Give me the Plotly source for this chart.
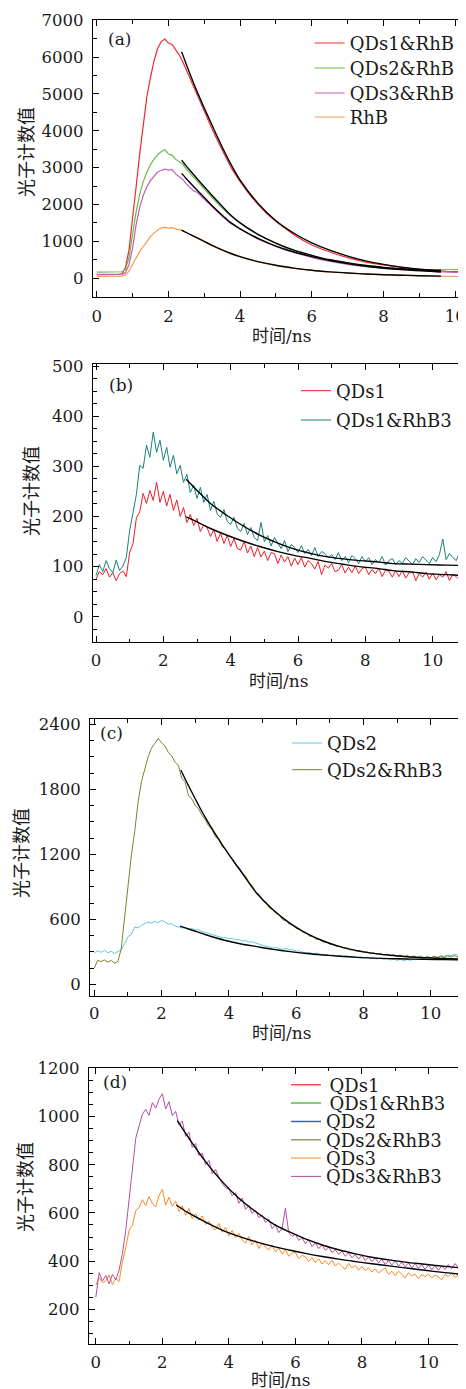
import plotly.graph_objects as go

# The page body adds an 8 px margin, so the figure is drawn 8 px smaller and
# every reference pixel position is shifted by that offset.
OFF = 8
W, H = 466 - OFF, 1389 - OFF

# ---------------- Panel (a) data ----------------
t_a = [0, 0.2, 0.4, 0.6, 0.7, 0.8, 0.9, 1.0, 1.1, 1.2, 1.3, 1.4, 1.5, 1.6, 1.7, 1.8, 1.9, 2.0,
       2.1, 2.2, 2.3, 2.4, 2.5, 2.6, 2.7, 2.8, 2.9, 3.0, 3.25, 3.5, 3.75, 4.0, 4.25, 4.5, 4.75,
       5.0, 5.25, 5.5, 5.75, 6.0, 6.25, 6.5, 6.75, 7.0, 7.25, 7.5, 7.75, 8.0, 8.25, 8.5, 8.75,
       9.0, 9.25, 9.5, 9.75, 10.0, 10.25, 10.3]
a_qds1_rhb = [95, 90, 95, 100, 120, 280, 760, 1550, 2480, 3380, 4200, 4930, 5450, 5900, 6230, 6420,
              6490, 6380, 6340, 6200, 6060, 5870, 5650, 5420, 5230, 5000, 4780, 4560, 3980, 3480,
              3000, 2620, 2290, 2000, 1750, 1540, 1350, 1180, 1030, 900, 800, 710, 630, 560, 490,
              435, 395, 357, 320, 290, 262, 238, 218, 200, 188, 180, 172, 170]
a_qds2_rhb = [165, 170, 165, 170, 175, 230, 560, 1180, 1800, 2280, 2620, 2880, 3080, 3230, 3350,
              3430, 3490, 3370, 3340, 3230, 3170, 3090, 2960, 2850, 2740, 2650, 2540, 2410, 2150,
              1900, 1680, 1500, 1320, 1180, 1050, 940, 830, 750, 680, 615, 540, 490, 445, 415, 380,
              345, 318, 295, 275, 255, 240, 228, 222, 225, 230, 235, 238, 240]
a_qds3_rhb = [105, 100, 105, 105, 110, 150, 360, 820, 1450, 1930, 2250, 2480, 2650, 2780, 2880,
              2920, 2960, 2930, 2950, 2830, 2760, 2680, 2560, 2450, 2370, 2330, 2240, 2150, 1900,
              1680, 1480, 1340, 1180, 1060, 955, 860, 770, 700, 625, 565, 505, 455, 410, 375, 340,
              315, 290, 268, 248, 230, 215, 202, 188, 175, 165, 160, 158, 158]
a_rhb = [50, 48, 50, 52, 55, 90, 190, 380, 560, 720, 860, 1000, 1130, 1230, 1310, 1360, 1385, 1360,
         1370, 1340, 1320, 1290, 1240, 1190, 1140, 1080, 1030, 990, 860, 760, 650, 580, 500, 445,
         385, 340, 295, 262, 232, 210, 185, 168, 150, 137, 125, 115, 105, 95, 88, 80, 74, 68, 62,
         55, 50, 45, 42, 42]
tfit_a = [2.37, 2.5, 2.75, 3.0, 3.25, 3.5, 3.75, 4.0, 4.5, 5.0, 5.5, 6.0, 6.5, 7.0, 7.5, 8.0, 8.5, 9.0, 9.6]
fit_a_qds1 = [6140, 5800, 5180, 4620, 4080, 3560, 3080, 2660, 2030, 1560, 1220, 960, 760, 600, 470, 375, 300, 245, 200]
fit_a_qds2 = [3204, 3040, 2760, 2480, 2210, 1950, 1700, 1500, 1190, 950, 760, 620, 500, 415, 345, 295, 255, 230, 214]
fit_a_qds3 = [2843, 2700, 2440, 2190, 1940, 1710, 1500, 1340, 1080, 870, 710, 585, 480, 395, 325, 272, 232, 205, 170]
fit_a_rhb = [1307, 1240, 1120, 1000, 880, 770, 670, 585, 450, 350, 275, 215, 172, 140, 115, 95, 80, 68, 55]

# ---------------- Panel (b) data ----------------
t_b = [round(0.1 * i, 1) for i in range(111)]
b_qds1 = [75, 90, 84, 96, 79, 88, 72, 86, 91, 80,
          128, 146, 197, 210, 246, 226, 252, 232, 268, 228,
          250, 221, 244, 212, 233, 200, 218, 188, 204, 182,
          196, 170, 183, 178, 160, 174, 150, 167, 146, 162,
          140, 156, 136, 133, 150, 127, 141, 120, 138, 119,
          131, 112, 128, 126, 106, 123, 109, 120, 101, 117,
          104, 118, 99, 112, 106, 95, 110, 84, 103, 97,
          106, 90, 93, 104, 87, 99, 88, 101, 86, 96,
          99, 84, 94, 86, 97, 80, 93, 91, 79, 92,
          80, 92, 77, 88, 90, 72, 86, 79, 89, 75,
          87, 74, 84, 79, 90, 72, 85, 80, 73, 87, 80]
b_qds1_rhb3 = [82, 104, 90, 112, 96, 88, 113, 92, 101, 118,
               172, 212, 244, 302, 296, 342, 318, 368, 328, 352,
               312, 338, 298, 322, 285, 302, 268, 284, 248, 262,
               236, 258, 228, 244, 212, 230, 205, 198, 214, 190,
               184, 198, 176, 170, 186, 164, 178, 158, 152, 188,
               150, 162, 141, 158, 146, 136, 152, 130, 144, 138,
               128, 142, 126, 134, 122, 138, 120, 130, 126, 118,
               124, 114, 128, 112, 120, 108, 122, 116, 106, 120,
               110, 118, 104, 114, 108, 120, 103, 112, 116, 104,
               112, 106, 118, 110, 104, 116, 108, 120, 112, 106,
               118, 110, 124, 155, 114, 126, 118, 112, 128, 120, 116]
tfit_b = [2.68, 3.0, 3.4, 3.87, 4.4, 4.86, 5.4, 5.85, 6.4, 6.84, 7.4, 7.83, 8.4, 8.82, 9.4, 9.81, 10.4, 11.0]
fit_b_qds1 = [199, 189, 176, 163, 150, 140, 130, 123, 116, 110, 104, 100, 96, 92, 89, 86, 84, 82]
fit_b_qds1_rhb3 = [274, 252, 226, 203, 180, 163, 147, 136, 126, 120, 115, 112, 109, 106, 105, 104, 103, 102]

# ---------------- Panel (c) data ----------------
t_c = [round(0.1 * i, 1) for i in range(111)]
c_qds2 = [290, 310, 295, 315, 290, 305, 285, 300, 320, 375,
          440, 460, 530, 520, 545, 560, 575, 565, 580, 570,
          590, 575, 555, 560, 540, 530, 520, 525, 510, 515,
          500, 505, 485, 480, 470, 465, 450, 445, 430, 432,
          420, 425, 410, 412, 400, 405, 390, 392, 378, 370,
          360, 355, 345, 335, 340, 330, 325, 330, 318, 320,
          305, 310, 295, 290, 295, 282, 288, 275, 272, 278,
          265, 270, 260, 265, 255, 262, 252, 258, 250, 255,
          245, 250, 240, 245, 235, 240, 232, 238, 225, 232,
          222, 230, 220, 228, 222, 232, 228, 240, 238, 248,
          245, 255, 250, 262, 258, 268, 265, 275, 270, 285, 280]
c_qds2_rhb3 = [150, 220, 210, 225, 205, 220, 195, 210, 330, 620,
               960, 1190, 1410, 1680, 1870, 1990, 2100, 2180, 2230, 2270,
               2230, 2200, 2140, 2110, 2050, 2020, 1900, 1870, 1740, 1710,
               1650, 1620, 1560, 1520, 1460, 1430, 1360, 1340, 1270, 1250,
               1190, 1160, 1100, 1080, 1030, 1000, 940, 910, 845, 830,
               775, 760, 705, 690, 655, 640, 595, 590, 555, 548,
               515, 508, 480, 472, 445, 440, 415, 412, 390, 390,
               370, 370, 350, 350, 335, 336, 318, 320, 305, 310,
               295, 300, 285, 292, 278, 286, 270, 280, 264, 274,
               258, 270, 254, 266, 250, 262, 248, 258, 244, 258,
               244, 260, 246, 262, 248, 264, 250, 266, 252, 268, 256]
tfit_c2 = [2.55, 3.0, 3.34, 3.84, 4.33, 4.83, 5.32, 5.82, 6.31, 6.81, 7.3, 7.8, 8.3, 8.79, 9.3, 9.78, 10.4, 11.0]
fit_c_qds2 = [538, 490, 455, 409, 375, 348, 323, 302, 285, 271, 259, 249, 242, 237, 234, 231, 228, 225]
tfit_c23 = [2.57, 2.84, 3.34, 3.84, 4.33, 4.83, 5.32, 5.82, 6.31, 6.81, 7.3, 7.8, 8.3, 8.79, 9.3, 9.78, 10.4, 11.0]
fit_c_qds2_rhb3 = [1978, 1809, 1517, 1271, 1055, 840, 686, 563, 471, 400, 348, 311, 286, 268, 255, 246, 238, 231]

# ---------------- Panel (d) data ----------------
t_d = [round(0.1 * i, 1) for i in range(112)]
d_qds3 = [300, 332, 310, 318, 342, 302, 328, 315, 398, 455,
          528, 548, 610, 622, 655, 630, 668, 640, 625, 672,
          698, 632, 665, 628, 648, 606, 630, 590, 618, 576,
          596, 570, 588, 552, 566, 540, 530, 556, 520, 540,
          505, 528, 498, 515, 488, 474, 502, 468, 488, 452,
          475, 458, 446, 466, 438, 455, 430, 448, 420, 434,
          436, 410, 424, 418, 398, 415, 394, 410, 388, 402,
          385, 404, 380, 392, 378, 366, 390, 372, 382, 362,
          378, 360, 372, 355, 368, 350, 362, 372, 345, 358,
          340, 358, 346, 330, 352, 338, 346, 326, 344, 336,
          346, 330, 342, 334, 322, 345, 336, 350, 332, 342, 355, 346]
d_qds3_rhb3 = [250, 352, 318, 340, 305, 345, 322, 362, 432, 528,
               655, 795, 910, 960, 1010, 1030, 1005, 1058, 1035, 1072,
               1095, 1032, 1062, 1004, 1022, 965, 982, 918, 935, 872,
               888, 838, 848, 800, 818, 762, 780, 748, 722, 705,
               698, 672, 684, 640, 662, 615, 630, 598, 612, 580,
               592, 560, 575, 535, 552, 518, 536, 620, 518, 502,
               512, 486, 498, 472, 490, 460, 476, 452, 468, 445,
               458, 436, 448, 428, 442, 420, 434, 414, 428, 408,
               424, 402, 418, 398, 412, 392, 408, 386, 402, 384,
               400, 380, 396, 376, 392, 372, 390, 370, 386, 366,
               384, 364, 382, 362, 380, 365, 386, 368, 390, 372, 396, 382]
tfit_d3 = [2.42, 2.8, 3.3, 3.8, 4.3, 4.8, 5.3, 5.81, 6.3, 6.81, 7.3, 7.81, 8.3, 8.82, 9.3, 9.82, 10.5, 11.13]
fit_d_qds3 = [633, 599, 562, 529, 503, 481, 462, 446, 432, 419, 408, 398, 389, 380, 372, 363, 352, 343]
tfit_d33 = [2.45, 2.8, 3.3, 3.8, 4.3, 4.8, 5.31, 5.81, 6.3, 6.81, 7.3, 7.81, 8.3, 8.82, 9.3, 9.82, 10.5, 11.13]
fit_d_qds3_rhb3 = [983, 910, 813, 730, 661, 606, 557, 522, 492, 467, 447, 430, 416, 405, 396, 388, 378, 370]

# ---------------- Labels ----------------
panel_labels = ["(a)", "(b)", "(c)", "(d)"]
legend_a = ["QDs1&RhB", "QDs2&RhB", "QDs3&RhB", "RhB"]
legend_b = ["QDs1", "QDs1&RhB3"]
legend_c = ["QDs2", "QDs2&RhB3"]
legend_d = ["\u2009QDs1", "\u2009QDs1&RhB3", "QDs2", "QDs2&RhB3", "QDs3", "QDs3&RhB3"]
y_title = "光子计数值"
x_title = "时间/ns"

SERIF = "DejaVu Serif"
CJK = "Noto Sans CJK SC"


def px2x(px):
    return (px - OFF) / W


def py2y(py):
    return 1 - (py - OFF) / H


fig = go.Figure()

legend_layouts = {}
leg_counter = [0]


def add_legend(line_px, row_py, size=18):
    leg_counter[0] += 1
    n = leg_counter[0]
    name = "legend" if n == 1 else f"legend{n}"
    legend_layouts[name] = dict(
        x=px2x(line_px - 6), y=py2y(row_py), xanchor="left", yanchor="middle",
        bgcolor="rgba(0,0,0,0)", borderwidth=0,
        font=dict(family=SERIF, size=size, color="#1a1a1a"),
        itemwidth=30, tracegroupgap=0,
    )
    return name


def data_trace(x, y, name, color, xa, ya, leg, width=1.0):
    fig.add_trace(go.Scatter(x=x, y=y, mode="lines", name=name,
                             line=dict(color=color, width=width),
                             xaxis=xa, yaxis=ya, legend=leg, showlegend=True))


def fit_trace(x, y, xa, ya):
    fig.add_trace(go.Scatter(x=x, y=y, mode="lines", showlegend=False,
                             line=dict(color="black", width=1.4, shape="spline"),
                             xaxis=xa, yaxis=ya, hoverinfo="skip"))


# Panel (a)
cols_a = ["#ee2a2a", "#66bb48", "#be5fb4", "#f5994f"]
rows_a = [43.3, 68.3, 93.3, 117.3]
for ys, nm, c, r in zip([a_qds1_rhb, a_qds2_rhb, a_qds3_rhb, a_rhb], legend_a, cols_a, rows_a):
    data_trace(t_a, ys, nm, c, "x", "y", add_legend(315.7, r), width=1.2)
for ys in [fit_a_qds1, fit_a_qds2, fit_a_qds3, fit_a_rhb]:
    fit_trace(tfit_a, ys, "x", "y")

# Panel (b)
data_trace(t_b, b_qds1, legend_b[0], "#ee1c25", "x2", "y2", add_legend(302, 391))
data_trace(t_b, b_qds1_rhb3, legend_b[1], "#1a807c", "x2", "y2", add_legend(302, 420.3))
fit_trace(tfit_b, fit_b_qds1, "x2", "y2")
fit_trace(tfit_b, fit_b_qds1_rhb3, "x2", "y2")

# Panel (c)
data_trace(t_c, c_qds2, legend_c[0], "#5ec8da", "x3", "y3", add_legend(293, 743.3))
data_trace(t_c, c_qds2_rhb3, legend_c[1], "#80802a", "x3", "y3", add_legend(293, 770))
fit_trace(tfit_c2, fit_c_qds2, "x3", "y3")
fit_trace(tfit_c23, fit_c_qds2_rhb3, "x3", "y3")

# Panel (d)
cols_d_empty = ["#f05050", "#55c040", "#4060a8", "#9a9a6a"]
rows_d = [1085, 1103.3, 1121.7, 1140, 1158.3, 1176.7]
for nm, c, r in zip(legend_d[:4], cols_d_empty, rows_d[:4]):
    fig.add_trace(go.Scatter(x=[None], y=[None], mode="lines", name=nm,
                             line=dict(color=c, width=1.5), xaxis="x4", yaxis="y4",
                             legend=add_legend(292, r), showlegend=True))
data_trace(t_d, d_qds3, legend_d[4], "#f98a22", "x4", "y4", add_legend(292, rows_d[4]))
data_trace(t_d, d_qds3_rhb3, legend_d[5], "#b0509e", "x4", "y4", add_legend(292, rows_d[5]))
fit_trace(tfit_d3, fit_d_qds3, "x4", "y4")
fit_trace(tfit_d33, fit_d_qds3_rhb3, "x4", "y4")

# ---------------- Axes ----------------
tickfont = dict(family=SERIF, size=16.5, color="#1a1a1a")


def xaxis(left_px, rng, anchor, standoff=4):
    return dict(domain=[px2x(left_px), 1], range=rng, anchor=anchor,
                showline=True, linecolor="black", linewidth=1.3, mirror="allticks",
                ticks="inside", ticklen=6, tickwidth=1.2, tickcolor="black",
                tick0=0, dtick=2, showgrid=False, zeroline=False, tickfont=tickfont,
                ticklabelstandoff=standoff,
                minor=dict(ticks="inside", ticklen=3.5, tickwidth=1, tickcolor="black", dtick=1, tick0=0,
                           showgrid=False))


def yaxis(top_py, bot_py, rng, dt, mdt, anchor):
    return dict(domain=[py2y(bot_py), py2y(top_py)], range=rng, anchor=anchor,
                showline=True, linecolor="black", linewidth=1.3,
                ticks="inside", ticklen=6, tickwidth=1.2, tickcolor="black",
                tick0=0, dtick=dt, showgrid=False, zeroline=False, tickfont=tickfont,
                ticklabelstandoff=5,
                minor=dict(ticks="inside", ticklen=3.5, tickwidth=1, tickcolor="black", dtick=mdt, tick0=0,
                           showgrid=False))


layout_axes = dict(
    xaxis=xaxis(93, [-0.103, 10.3], "y"),
    yaxis=yaxis(20, 297, [-510, 7005], 1000, 500, "x"),
    xaxis2=xaxis(93, [-0.089, 10.99], "y2", 3),
    yaxis2=yaxis(364.3, 642.3, [-51, 503.5], 100, 25, "x2"),
    xaxis3=xaxis(90.3, [-0.12, 11.05], "y3", 2),
    yaxis3=yaxis(719, 995.7, [-105, 2449], 600, 150, "x3"),
    xaxis4=xaxis(89, [-0.205, 11.13], "y4", 3),
    yaxis4=yaxis(1067.7, 1344.3, [54.6, 1203], 200, 50, "x4"),
)

# ---------------- Annotations ----------------
ann = []
label_pos = [(119.5, 39), (120.5, 385), (111.5, 732.7), (114.5, 1082)]
for lab, (px, py) in zip(panel_labels, label_pos):
    ann.append(dict(text=lab, x=px2x(px), y=py2y(py), xref="paper", yref="paper",
                    showarrow=False, xanchor="center", yanchor="middle",
                    font=dict(family=SERIF, size=17, color="#1a1a1a")))
ytitle_pos = [(25, 152), (30, 491), (20, 853), (24, 1187)]
for px, py in ytitle_pos:
    ann.append(dict(text=y_title, x=px2x(px), y=py2y(py), xref="paper", yref="paper",
                    showarrow=False, xanchor="center", yanchor="middle", textangle=-90,
                    font=dict(family=CJK, size=18, color="#1a1a1a")))
xtitle_pos = [(281, 336), (278, 681), (281, 1032.5), (280, 1379.5)]
for px, py in xtitle_pos:
    ann.append(dict(text=x_title, x=px2x(px), y=py2y(py), xref="paper", yref="paper",
                    showarrow=False, xanchor="center", yanchor="middle",
                    font=dict(family=SERIF + ", " + CJK, size=17, color="#1a1a1a")))

fig.update_layout(
    width=W, height=H, margin=dict(l=0, r=0, t=0, b=0, autoexpand=False),
    paper_bgcolor="white", plot_bgcolor="white",
    annotations=ann, **layout_axes, **legend_layouts,
)

fig.write_html("out.html")
